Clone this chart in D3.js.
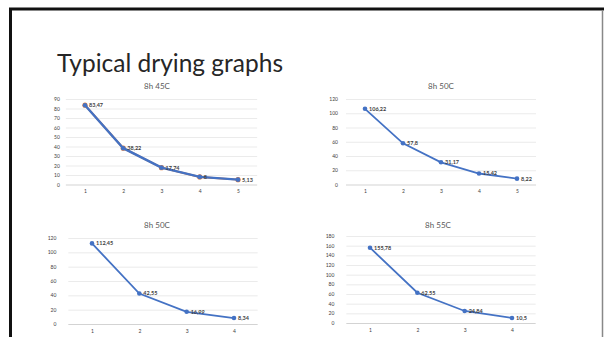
<!DOCTYPE html>
<html><head><meta charset="utf-8">
<script src="https://cdn.jsdelivr.net/npm/d3@7"></script>
<style>html,body{margin:0;padding:0;background:#fff;overflow:hidden}</style>
</head><body>
<svg id="c" width="604" height="337"></svg>
<script>
// ---- data ----
const titleMain = "Typical drying graphs";
const chartTitles = ["8h 45C", "8h 50C", "8h 50C", "8h 55C"];
const cats1 = [1, 2, 3, 4, 5];
const vals1 = [83.47, 38.22, 17.74, 8, 5.13];
const vals1b = [83.47, 38.22, 17.74, 8, 5.13];
const ticks1 = [0, 10, 20, 30, 40, 50, 60, 70, 80, 90];
const cats2 = [1, 2, 3, 4, 5];
const vals2 = [106.22, 57.8, 31.17, 15.42, 8.22];
const ticks2 = [0, 20, 40, 60, 80, 100, 120];
const cats3 = [1, 2, 3, 4];
const vals3 = [112.45, 42.55, 16.99, 8.34];
const ticks3 = [0, 20, 40, 60, 80, 100, 120];
const cats4 = [1, 2, 3, 4];
const vals4 = [155.78, 62.55, 24.84, 10.5];
const ticks4 = [0, 20, 40, 60, 80, 100, 120, 140, 160, 180];

const svg = d3.select("#c");
const BLUE = "#4472C4", ORANGE = "#ED7D31";

// slide frame
svg.append("line").attr("x1", 9).attr("x2", 604).attr("y1", 9).attr("y2", 9).attr("stroke", "#111").attr("stroke-width", 3);
svg.append("line").attr("x1", 10.5).attr("x2", 10.5).attr("y1", 8).attr("y2", 337).attr("stroke", "#111").attr("stroke-width", 3);
svg.append("line").attr("x1", 602.5).attr("x2", 602.5).attr("y1", 10).attr("y2", 337).attr("stroke", "#888").attr("stroke-width", 1.5);

const tt = svg.append("text").attr("x", 57).attr("y", 72).text(titleMain)
  .attr("font-family", "Lato, sans-serif").attr("font-size", 25).attr("fill", "#262626");
const w = tt.node().getComputedTextLength();
if (Math.abs(w - 226) > 4) tt.attr("textLength", 226).attr("lengthAdjust", "spacingAndGlyphs");

const fmt = v => String(v).replace(".", ",");

function drawChart(o) {
  const g = svg.append("g");
  g.append("text").attr("x", o.tx).attr("y", o.ty).attr("text-anchor", "middle")
    .attr("font-family", "Lato, sans-serif").attr("font-size", 8).attr("fill", "#595959").text(o.title);
  const x = d3.scalePoint().domain(o.cats).range([o.x0, o.x1]);
  const y = d3.scaleLinear().domain([0, o.ticks[o.ticks.length - 1]]).range([o.yb, o.yt]);
  const step = x.step();
  const gl = [x(o.cats[0]) - step / 2, x(o.cats[o.cats.length - 1]) + step / 2];
  const ya = g.append("g").attr("transform", `translate(${gl[0]},0)`)
    .call(d3.axisLeft(y).tickValues(o.ticks).tickSize(-(gl[1] - gl[0])).tickPadding(o.pad));
  ya.select(".domain").remove();
  ya.selectAll(".tick line").attr("stroke", (d) => d === 0 ? "#c8c8c8" : "#e6e6e6").attr("stroke-width", 0.8);
  ya.selectAll(".tick text").attr("font-family", "Lato, sans-serif").attr("font-size", 5).attr("fill", "#404040");
  const xa = g.append("g").attr("transform", `translate(0,${o.yb})`)
    .call(d3.axisBottom(x).tickSize(0).tickPadding(5));
  xa.select(".domain").remove();
  xa.selectAll(".tick text").attr("font-family", "Lato, sans-serif").attr("font-size", 5).attr("fill", "#404040");

  const line = d3.line().x((d, i) => x(o.cats[i])).y(d => y(d));
  if (o.vals2) {
    g.append("path").datum(o.vals2).attr("d", line).attr("fill", "none").attr("stroke", ORANGE).attr("stroke-width", 2);
    g.selectAll("circle.b").data(o.vals2).join("circle").attr("class", "b")
      .attr("cx", (d, i) => x(o.cats[i])).attr("cy", d => y(d)).attr("r", 2.6).attr("fill", ORANGE);
  }
  g.append("path").datum(o.vals).attr("d", line).attr("fill", "none").attr("stroke", BLUE).attr("stroke-width", o.vals2 ? 2.4 : 1.8);
  g.selectAll("circle.a").data(o.vals).join("circle").attr("class", "a")
    .attr("cx", (d, i) => x(o.cats[i])).attr("cy", d => y(d)).attr("r", 2.3).attr("fill", BLUE);
  g.selectAll("text.lab").data(o.vals).join("text").attr("class", "lab")
    .attr("x", (d, i) => x(o.cats[i]) + 4).attr("y", d => y(d) + 1.9)
    .attr("font-family", "Lato, sans-serif").attr("font-size", 5.5).attr("font-weight", "bold").attr("fill", "#404040")
    .text(d => fmt(d));
}

drawChart({title: chartTitles[0], tx: 157, ty: 89, cats: cats1, vals: vals1, vals2: vals1b, ticks: ticks1, x0: 85, x1: 238, yt: 99, yb: 184.5, pad: 6});
drawChart({title: chartTitles[1], tx: 441, ty: 89, cats: cats2, vals: vals2, ticks: ticks2, x0: 365, x1: 517, yt: 99, yb: 184.5, pad: 8});
drawChart({title: chartTitles[2], tx: 157, ty: 228, cats: cats3, vals: vals3, ticks: ticks3, x0: 92, x1: 234, yt: 238, yb: 324, pad: 12});
drawChart({title: chartTitles[3], tx: 438, ty: 228, cats: cats4, vals: vals4, ticks: ticks4, x0: 370, x1: 512, yt: 236, yb: 323, pad: 12});
</script>
</body></html>
